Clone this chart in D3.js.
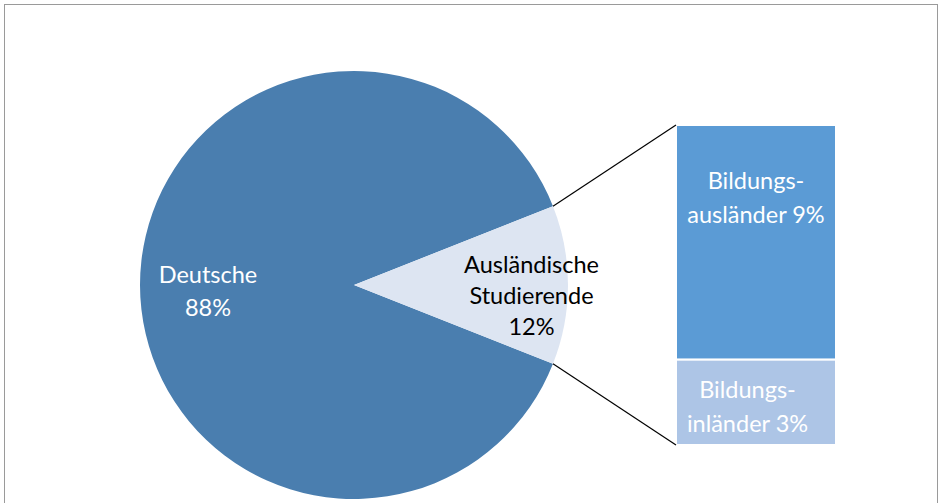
<!DOCTYPE html>
<html><head><meta charset="utf-8">
<script src="https://cdn.jsdelivr.net/npm/d3@7"></script>
<style>
html,body{margin:0;padding:0;background:#fff;}
svg{display:block;font-family:Lato,"Open Sans",sans-serif;}
</style></head><body>
<script>
const pieLabels = ["Deutsche", "Ausländische Studierende"];
const pieValues = [88, 12];
const pieTexts = [["Deutsche", "88%"], ["Ausländische", "Studierende", "12%"]];
const barLabels = ["Bildungsausländer", "Bildungsinländer"];
const barValues = [8.8, 3.2];
const barTexts = [["Bildungs-", "ausländer 9%"], ["Bildungs-", "inländer 3%"]];

(function () {
const W = 940, H = 503;
const FS = 23.5;
const svg = d3.select("body").append("svg").attr("width", W).attr("height", H);

svg.append("rect").attr("x", 4.5).attr("y", 4.5).attr("width", 933).attr("height", 520)
  .attr("fill", "#fff").attr("stroke", "#9a9a9a").attr("stroke-width", 1);

const cx = 354, cy = 285, R = 214;
const pieColors = ["#4a7eaf", "#dde5f2"];

const frac = pieValues[1] / d3.sum(pieValues);
const half = frac * Math.PI;
const pie = d3.pie().sort(null).value(d => d)
  .startAngle(Math.PI / 2 + half - 2 * Math.PI)
  .endAngle(Math.PI / 2 + half);
const arcs = pie(pieValues);
const arc = d3.arc().innerRadius(0).outerRadius(R);

const g = svg.append("g").attr("transform", `translate(${cx},${cy})`);
g.selectAll("path").data(arcs).join("path")
  .attr("d", arc).attr("fill", (d, i) => pieColors[i]);

const labelR = [146, 177.5];
const labelDy = [14.5, 19];
const labelLH = [33, 31];
arcs.forEach((a, i) => {
  const mid = (a.startAngle + a.endAngle) / 2;
  const x = Math.sin(mid) * labelR[i], y = -Math.cos(mid) * labelR[i];
  const lines = pieTexts[i];
  const t = g.append("text").attr("text-anchor", "middle")
    .attr("font-size", FS).attr("fill", i === 0 ? "#ffffff" : "#000000");
  lines.forEach((s, k) => {
    t.append("tspan").attr("x", x).attr("y", y + (k - (lines.length - 1) / 2) * labelLH[i] + labelDy[i]).text(s);
  });
});

const bx0 = 676, bx1 = 836, by0 = 125, by1 = 445;
const total = d3.sum(barValues);
const y = d3.scaleLinear().domain([0, total]).range([by1, by0]);
const barColors = ["#5b9bd5", "#adc5e6"];
const stack = [];
let cum = total;
barValues.forEach((v, i) => { stack.push({ v, i, y0: cum - v, y1: cum }); cum -= v; });

const bg = svg.append("g");
bg.selectAll("rect").data(stack).join("rect")
  .attr("x", bx0).attr("width", bx1 - bx0)
  .attr("y", d => y(d.y1)).attr("height", d => y(d.y0) - y(d.y1))
  .attr("fill", d => barColors[d.i]).attr("stroke", "#fff").attr("stroke-width", 2);

const barLabelPos = [{ dx: 0, yc: 206 }, { dx: -8.5, yc: 415 }];
stack.forEach((d, i) => {
  const xc = (bx0 + bx1) / 2 + barLabelPos[i].dx;
  const yc = barLabelPos[i].yc;
  const t = bg.append("text").attr("text-anchor", "middle").attr("font-size", FS).attr("fill", "#fff");
  barTexts[i].forEach((s2, k) => {
    t.append("tspan").attr("x", xc).attr("y", yc + (k - 0.5) * 34).text(s2);
  });
});

const fa = arcs[1];
const p1 = [cx + Math.sin(fa.startAngle) * R, cy - Math.cos(fa.startAngle) * R];
const p2 = [cx + Math.sin(fa.endAngle) * R, cy - Math.cos(fa.endAngle) * R];
svg.append("line").attr("x1", p1[0]).attr("y1", p1[1]).attr("x2", bx0).attr("y2", y(total))
  .attr("stroke", "#000").attr("stroke-width", 1.2);
svg.append("line").attr("x1", p2[0]).attr("y1", p2[1]).attr("x2", bx0).attr("y2", y(0))
  .attr("stroke", "#000").attr("stroke-width", 1.2);
})();
</script>
</body></html>
